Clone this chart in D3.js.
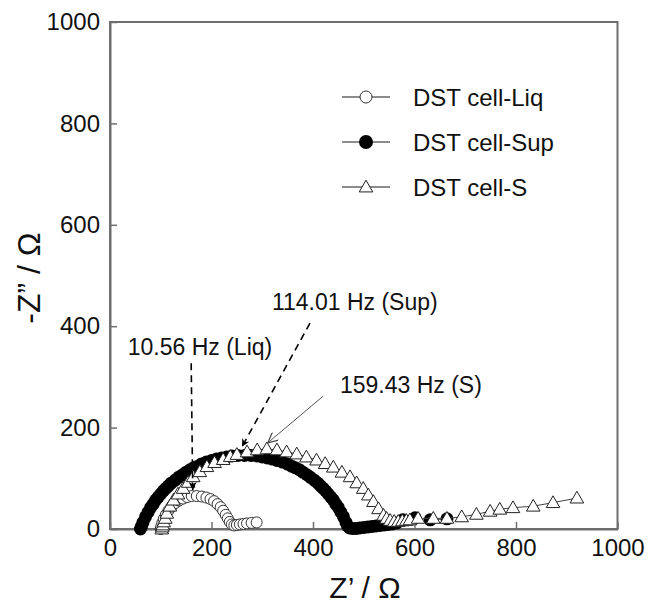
<!DOCTYPE html>
<html><head><meta charset="utf-8">
<script src="https://cdn.jsdelivr.net/npm/d3@7"></script>
<style>body{margin:0;background:#fff}svg{display:block}text{font-family:"Liberation Sans",Arial,sans-serif}</style>
</head><body>
<div id="chart"></div>
<script>
// ---- data (Z', -Z'') ----
const seriesNames = ["DST cell-Liq", "DST cell-Sup", "DST cell-S"];
const liq = [[100,0],[101,5],[103,12],[106,20],[110,28],[115,36],[121,44],[128,51],[136,56],[144,60],[152,63],[161,65],[171,65],[181,64],[190,62],[198,59],[205,55],[212,49],[218,43],[223,36],[228,28],[232,21],[236,14],[240,9],[245,7],[250,8],[256,9],[263,10],[270,11],[279,12],[289,13]];
const sup = [[60,0],[62,5],[65,13],[70,24],[75,33],[80,42],[85,49],[90,57],[95,63],[100,69],[105,75],[110,80],[115,85],[120,90],[128,96],[135,102],[143,107],[150,112],[158,117],[165,121],[173,124],[180,128],[190,132],[200,135],[210,138],[220,140],[230,142],[240,144],[252,145],[265,145],[278,145],[290,144],[300,142],[310,140],[320,138],[330,135],[340,132],[350,128],[358,124],[365,121],[373,117],[380,112],[388,107],[395,102],[403,96],[410,90],[415,85],[420,80],[425,75],[430,69],[435,63],[440,57],[445,49],[450,42],[455,33],[460,24],[465,13],[468,6],[472,2],[478,1],[485,1],[492,2],[500,3],[508,4],[516,5],[524,6],[532,7],[540,8],[548,9],[556,10],[565,12],[577,18],[601,22],[631,18],[664,20]];
const sApp = [[102,0],[103,4],[104,8],[106,14],[109,21],[112,31],[118,45],[125,57],[134,69],[144,80],[154,92],[164,103],[177,113],[191,123],[206,131],[223,137],[237,143],[250,147],[270,152],[290,156],[309,158],[329,156],[348,152],[368,148],[387,142],[407,136],[424,129],[440,122],[457,112],[473,103],[486,91],[499,80],[509,67],[519,54],[529,40],[539,27],[545,21],[552,17],[560,15],[568,15],[576,16],[584,17],[591,18],[607,21],[637,21],[664,21],[693,24],[722,29],[749,35],[768,39],[794,42],[834,45],[873,52],[920,61]];
const xTicks = [0,200,400,600,800,1000];
const yTicks = [0,200,400,600,800,1000];
// annotations: label position and arrow from -> to (data units)
const annotations = [
  {text:"114.01 Hz (Sup)", at:[319,448], from:[394,406], to:[260,162], style:"dashedBlack"},
  {text:"10.56 Hz (Liq)", at:[35,359], from:[160,327], to:[163,77], style:"dashedBlack"},
  {text:"159.43 Hz (S)", at:[453,284], from:[420,262], to:[311,170], style:"thinGray"}
];

const W = 665, H = 605;
const svg = d3.select("#chart").append("svg").attr("width", W).attr("height", H);
const x = d3.scaleLinear().domain([0,1000]).range([110,617.5]);
const y = d3.scaleLinear().domain([0,1000]).range([529,22]);
const axisColor = "#6e6e6e";

// frame
svg.append("rect").attr("x", x(0)).attr("y", y(1000)).attr("width", x(1000)-x(0)).attr("height", y(0)-y(1000))
  .attr("fill","none").attr("stroke",axisColor).attr("stroke-width",2);

const gx = svg.append("g").attr("transform",`translate(0,${y(0)})`)
  .call(d3.axisBottom(x).tickValues(xTicks).tickFormat(d3.format("d")).tickSizeInner(-7).tickSizeOuter(0).tickPadding(12));
const gy = svg.append("g").attr("transform",`translate(${x(0)},0)`)
  .call(d3.axisLeft(y).tickValues(yTicks).tickFormat(d3.format("d")).tickSizeInner(-7).tickSizeOuter(0).tickPadding(10));
[gx,gy].forEach(g=>{
  g.select(".domain").attr("stroke",axisColor).attr("stroke-width",2);
  g.selectAll(".tick line").attr("stroke",axisColor).attr("stroke-width",1.5);
  g.selectAll(".tick text").attr("font-size",24).attr("fill","#111").attr("font-family","Liberation Sans, Arial, sans-serif");
});
gx.selectAll(".tick text").attr("dy","0.62em");

// axis titles
svg.append("text").attr("x",365).attr("y",598).attr("text-anchor","middle").attr("font-size",30).attr("fill","#111").text("Z’ / Ω");
svg.append("text").attr("transform","translate(40,278) rotate(-90)").attr("text-anchor","middle").attr("font-size",32).attr("fill","#111").text("-Z” / Ω");

// markers
const line = d3.line().x(d=>x(d[0])).y(d=>y(d[1]));
const tri = d3.symbol().type(d3.symbolTriangle).size(80);

// Sup
svg.append("path").attr("d",line(sup)).attr("fill","none").attr("stroke","#444").attr("stroke-width",1);
svg.append("g").selectAll("circle").data(sup).join("circle")
  .attr("cx",d=>x(d[0])).attr("cy",d=>y(d[1])).attr("r",6.5).attr("fill","#000");
// Liq
svg.append("path").attr("d",line(liq)).attr("fill","none").attr("stroke","#555").attr("stroke-width",1);
svg.append("g").selectAll("circle").data(liq).join("circle")
  .attr("cx",d=>x(d[0])).attr("cy",d=>y(d[1])).attr("r",5.5).attr("fill","#fff").attr("stroke","#333").attr("stroke-width",1);
// S
svg.append("path").attr("d",line(sApp)).attr("fill","none").attr("stroke","#444").attr("stroke-width",1);
svg.append("g").selectAll("path").data(sApp).join("path")
  .attr("d",tri).attr("transform",d=>`translate(${x(d[0])},${y(d[1])+1})`)
  .attr("fill","#fff").attr("stroke","#222").attr("stroke-width",1);

// legend
const legendRows = [97,142,187];
const lg = svg.append("g");
seriesNames.forEach((name,i)=>{
  const cy = legendRows[i];
  lg.append("line").attr("x1",342).attr("x2",390).attr("y1",cy).attr("y2",cy).attr("stroke","#666").attr("stroke-width",1.5);
  if(i===0) lg.append("circle").attr("cx",366).attr("cy",cy).attr("r",6).attr("fill","#fff").attr("stroke","#333");
  else if(i===1) lg.append("circle").attr("cx",366).attr("cy",cy).attr("r",7).attr("fill","#000");
  else lg.append("path").attr("d",tri).attr("transform",`translate(366,${cy+1})`).attr("fill","#fff").attr("stroke","#222");
  lg.append("text").attr("x",413).attr("y",cy).attr("dy","0.36em").attr("font-size",24).attr("fill","#111").text(name);
});

// annotations
const defs = svg.append("defs");
defs.append("marker").attr("id","ahBlack").attr("viewBox","0 0 10 10").attr("refX",10).attr("refY",5)
  .attr("markerWidth",11).attr("markerHeight",8).attr("markerUnits","userSpaceOnUse").attr("orient","auto")
  .append("path").attr("d","M0,0 L10,5 L0,10 L3,5 Z").attr("fill","#000");
defs.append("marker").attr("id","ahGray").attr("viewBox","0 0 10 10").attr("refX",10).attr("refY",5)
  .attr("markerWidth",12).attr("markerHeight",10).attr("markerUnits","userSpaceOnUse").attr("orient","auto")
  .append("path").attr("d","M0,0 L10,5 L0,10").attr("fill","none").attr("stroke","#444").attr("stroke-width",1.2);
annotations.forEach(a=>{
  svg.append("text").attr("x",x(a.at[0])).attr("y",y(a.at[1])).attr("dy","0.36em").attr("font-size",23).attr("fill","#111").text(a.text);
  const l = svg.append("line").attr("x1",x(a.from[0])).attr("y1",y(a.from[1])).attr("x2",x(a.to[0])).attr("y2",y(a.to[1]));
  if(a.style==="dashedBlack") l.attr("stroke","#000").attr("stroke-width",1.6).attr("stroke-dasharray","7,5").attr("marker-end","url(#ahBlack)");
  else l.attr("stroke","#555").attr("stroke-width",1).attr("marker-end","url(#ahGray)");
});
</script>
</body></html>
